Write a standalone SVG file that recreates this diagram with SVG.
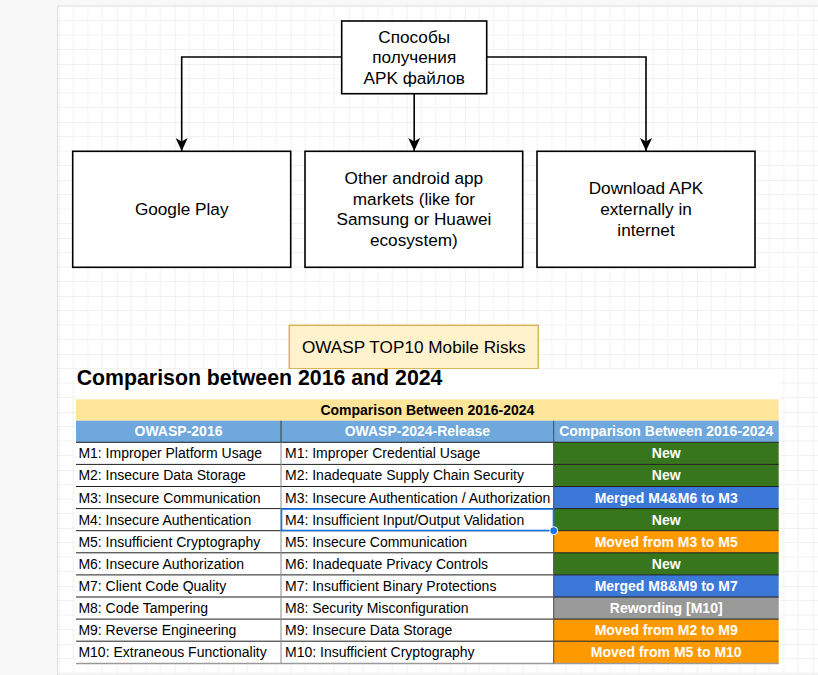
<svg xmlns="http://www.w3.org/2000/svg" width="818" height="675" viewBox="0 0 818 675">
<defs>
<pattern id="grid" x="58.7" y="6" width="58" height="58" patternUnits="userSpaceOnUse">
<path d="M14.5,0V58M29,0V58M43.5,0V58M0,14.5H58M0,29H58M0,43.5H58" stroke="#f2f2f2" stroke-width="1" fill="none"/>
<path d="M0,0V58M0,0H58" stroke="#e3e3e3" stroke-width="1" fill="none"/>
</pattern>
<marker id="arr" viewBox="0 0 13 12" refX="13" refY="6" markerWidth="13" markerHeight="12" markerUnits="userSpaceOnUse" orient="auto">
<path d="M13,6 L0,0 L3.5,6 L0,12 Z" fill="#000"/>
</marker>
<style>
.box{fill:#fff;stroke:#000;stroke-width:1.6}
.lbl{font-family:"Liberation Sans",Arial,sans-serif;font-size:17.2px;fill:#000;text-anchor:middle}
.edge{fill:none;stroke:#000;stroke-width:1.6}
.cell{font-family:"Liberation Sans",Arial,sans-serif;font-size:14px;fill:#000}
.hd{font-family:"Liberation Sans",Arial,sans-serif;font-size:14px;font-weight:bold;text-anchor:middle}
.w{fill:#fff}
.rl{stroke:#1f1f1f;stroke-width:1}
</style>
</defs>
<rect x="0" y="0" width="818" height="675" fill="#f8f8f8"/>
<rect x="57.5" y="6" width="761" height="669" fill="#fff" stroke="#e0e0e0" stroke-width="1"/>
<rect x="58" y="6.5" width="760" height="668.5" fill="url(#grid)"/>

<g id="connectors">
<path class="edge" d="M341.7,57 H181.7 V151" marker-end="url(#arr)"/>
<path class="edge" d="M414.2,93.7 V151" marker-end="url(#arr)"/>
<path class="edge" d="M486.7,57 H646 V151" marker-end="url(#arr)"/>
</g>

<g id="node-root">
<rect class="box" x="341.7" y="21" width="145" height="72.7"/>
<text class="lbl" x="414.2" y="42.5">Способы</text>
<text class="lbl" x="414.2" y="63">получения</text>
<text class="lbl" x="414.2" y="83.5">APK файлов</text>
</g>
<g id="node-google-play">
<rect class="box" x="72.7" y="151.3" width="218" height="116"/>
<text class="lbl" x="181.7" y="215">Google Play</text>
</g>
<g id="node-other-markets">
<rect class="box" x="305" y="151.3" width="217.7" height="116"/>
<text class="lbl" x="413.9" y="184">Other android app</text>
<text class="lbl" x="413.9" y="204.7">markets (like for</text>
<text class="lbl" x="413.9" y="225.4">Samsung or Huawei</text>
<text class="lbl" x="413.9" y="246">ecosystem)</text>
</g>
<g id="node-download">
<rect class="box" x="537" y="151.3" width="218" height="116"/>
<text class="lbl" x="646" y="194.3">Download APK</text>
<text class="lbl" x="646" y="215">externally in</text>
<text class="lbl" x="646" y="235.7">internet</text>
</g>
<g id="node-owasp">
<rect x="289.3" y="325.3" width="249" height="43.5" fill="#fff2cc" stroke="#d6b656" stroke-width="1.5"/>
<text x="413.8" y="352.7" text-anchor="middle" font-family="'Liberation Sans',Arial,sans-serif" font-size="17.2px" fill="#000">OWASP TOP10 Mobile Risks</text>
</g>

<g id="table">
<rect x="75" y="369" width="705" height="296" fill="#fff"/>
<text x="76.7" y="385.3" font-family="'Liberation Sans',Arial,sans-serif" font-size="21.3px" font-weight="bold" fill="#000">Comparison between 2016 and 2024</text>
<rect x="76" y="399.3" width="702.7" height="21.4" fill="#ffe599"/>
<text class="hd" x="427.4" y="414.5" fill="#000">Comparison Between 2016-2024</text>
<rect x="76" y="420.7" width="702.7" height="21.6" fill="#6fa8dc"/>
<text class="hd w" x="178.5" y="436.3">OWASP-2016</text>
<text class="hd w" x="417.4" y="436.3">OWASP-2024-Release</text>
<text class="hd w" x="666.2" y="436.3">Comparison Between 2016-2024</text>

<rect x="553.7" y="442.3" width="225" height="22.1" fill="#38761d"/>
<rect x="553.7" y="464.4" width="225" height="22.1" fill="#38761d"/>
<rect x="553.7" y="486.5" width="225" height="22.1" fill="#3c78d8"/>
<rect x="553.7" y="508.6" width="225" height="22.1" fill="#38761d"/>
<rect x="553.7" y="530.7" width="225" height="22.1" fill="#ff9900"/>
<rect x="553.7" y="552.8" width="225" height="22.1" fill="#38761d"/>
<rect x="553.7" y="574.9" width="225" height="22.1" fill="#3c78d8"/>
<rect x="553.7" y="597" width="225" height="22.1" fill="#999999"/>
<rect x="553.7" y="619.1" width="225" height="22.1" fill="#ff9900"/>
<rect x="553.7" y="641.2" width="225" height="22.1" fill="#ff9900"/>

<g>
<line class="rl" x1="76" y1="442.3" x2="778.7" y2="442.3"/>
<line class="rl" x1="76" y1="464.4" x2="778.7" y2="464.4"/>
<line class="rl" x1="76" y1="486.5" x2="778.7" y2="486.5"/>
<line class="rl" x1="76" y1="508.6" x2="778.7" y2="508.6"/>
<line class="rl" x1="76" y1="530.7" x2="778.7" y2="530.7"/>
<line class="rl" x1="76" y1="552.8" x2="778.7" y2="552.8"/>
<line class="rl" x1="76" y1="574.9" x2="778.7" y2="574.9"/>
<line class="rl" x1="76" y1="597" x2="778.7" y2="597"/>
<line class="rl" x1="76" y1="619.1" x2="778.7" y2="619.1"/>
<line class="rl" x1="76" y1="641.2" x2="778.7" y2="641.2"/>
<line x1="76" y1="663.5" x2="778.7" y2="663.5" stroke="#9a9a9a" stroke-width="1.5"/>
<line x1="281" y1="420.7" x2="281" y2="442.3" stroke="#3a3a3a" stroke-width="1"/>
<line x1="281" y1="442.3" x2="281" y2="663.5" stroke="#8a8a8a" stroke-width="1"/>
<line x1="553.7" y1="420.7" x2="553.7" y2="663.5" stroke="#4a4a4a" stroke-width="1"/>
</g>

<g class="cell">
<text x="78.4" y="458.3">M1: Improper Platform Usage</text>
<text x="78.4" y="480.4">M2: Insecure Data Storage</text>
<text x="78.4" y="502.5">M3: Insecure Communication</text>
<text x="78.4" y="524.6">M4: Insecure Authentication</text>
<text x="78.4" y="546.7">M5: Insufficient Cryptography</text>
<text x="78.4" y="568.8">M6: Insecure Authorization</text>
<text x="78.4" y="590.9">M7: Client Code Quality</text>
<text x="78.4" y="613">M8: Code Tampering</text>
<text x="78.4" y="635.1">M9: Reverse Engineering</text>
<text x="78.4" y="657.2">M10: Extraneous Functionality</text>
<text x="285" y="458.3">M1: Improper Credential Usage</text>
<text x="285" y="480.4">M2: Inadequate Supply Chain Security</text>
<text x="285" y="502.5">M3: Insecure Authentication / Authorization</text>
<text x="285" y="524.6">M4: Insufficient Input/Output Validation</text>
<text x="285" y="546.7">M5: Insecure Communication</text>
<text x="285" y="568.8">M6: Inadequate Privacy Controls</text>
<text x="285" y="590.9">M7: Insufficient Binary Protections</text>
<text x="285" y="613">M8: Security Misconfiguration</text>
<text x="285" y="635.1">M9: Insecure Data Storage</text>
<text x="285" y="657.2">M10: Insufficient Cryptography</text>
</g>
<g>
<text class="hd w" x="666.2" y="458.3">New</text>
<text class="hd w" x="666.2" y="480.4">New</text>
<text class="hd w" x="666.2" y="502.5">Merged M4&amp;M6 to M3</text>
<text class="hd w" x="666.2" y="524.6">New</text>
<text class="hd w" x="666.2" y="546.7">Moved from M3 to M5</text>
<text class="hd w" x="666.2" y="568.8">New</text>
<text class="hd w" x="666.2" y="590.9">Merged M8&amp;M9 to M7</text>
<text class="hd w" x="666.2" y="613">Rewording [M10]</text>
<text class="hd w" x="666.2" y="635.1">Moved from M2 to M9</text>
<text class="hd w" x="666.2" y="657.2">Moved from M5 to M10</text>
</g>
<rect x="281.5" y="509" width="272" height="21.5" fill="none" stroke="#1a73e8" stroke-width="1.6"/>
<circle cx="553.7" cy="530.7" r="4" fill="#1a73e8" stroke="#fff" stroke-width="1"/>
</g>
</svg>
